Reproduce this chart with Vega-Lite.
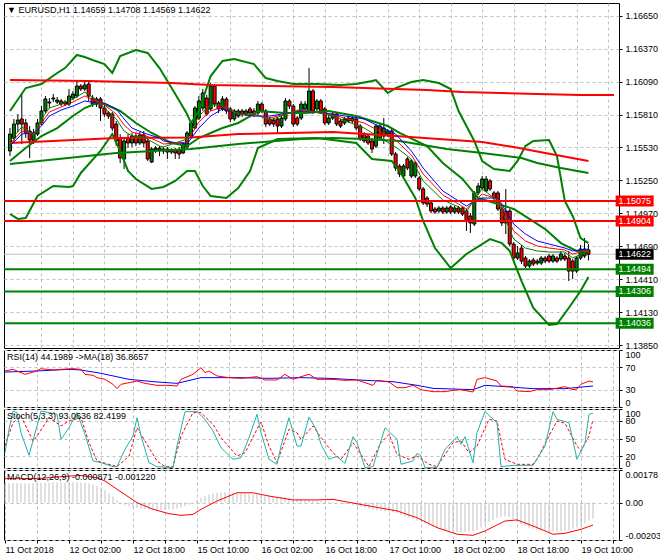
{
"$schema":"https://vega.github.io/schema/vega-lite/v6.json",
"background":"white",
"padding":{"left":2,"top":2,"right":0,"bottom":0},
"spacing":2,
"bounds":"flush",
"config":{
 "view":{"stroke":"#000000","strokeWidth":1,"fill":"white"},
 "axis":{"domain":false,"grid":true,"gridColor":"#c0c0c0","gridDash":[3,3],"gridWidth":1,"labelFont":"Liberation Sans","labelFontSize":9,"labelColor":"#000000","tickColor":"#000000","tickSize":3,"labelPadding":3,"labelOverlap":false},
 "title":{"anchor":"start","font":"Liberation Sans","fontSize":9,"fontWeight":"normal","color":"#000000","offset":-12,"dx":4},
 "legend":{"disable":true}
},
"datasets":{
"candles":[
{"i":0,"o":1.155,"h":1.15695,"l":1.15457,"c":1.15644},
{"i":1,"o":1.1561,"h":1.15772,"l":1.15576,"c":1.15729},
{"i":2,"o":1.15729,"h":1.15814,"l":1.15661,"c":1.15763},
{"i":3,"o":1.15772,"h":1.15993,"l":1.15559,"c":1.15729},
{"i":4,"o":1.15738,"h":1.15772,"l":1.1561,"c":1.15653},
{"i":5,"o":1.1567,"h":1.15712,"l":1.1544,"c":1.15593},
{"i":6,"o":1.15585,"h":1.15687,"l":1.15559,"c":1.15653},
{"i":7,"o":1.15644,"h":1.15772,"l":1.15627,"c":1.15738},
{"i":8,"o":1.15738,"h":1.15882,"l":1.15721,"c":1.1584},
{"i":9,"o":1.1584,"h":1.15967,"l":1.15823,"c":1.15942},
{"i":10,"o":1.15908,"h":1.1595,"l":1.15865,"c":1.15916},
{"i":11,"o":1.15942,"h":1.15984,"l":1.15916,"c":1.1595},
{"i":12,"o":1.15916,"h":1.15959,"l":1.15899,"c":1.15933},
{"i":13,"o":1.15925,"h":1.15942,"l":1.15882,"c":1.15899},
{"i":14,"o":1.15916,"h":1.15933,"l":1.15882,"c":1.15899},
{"i":15,"o":1.15899,"h":1.16027,"l":1.15882,"c":1.15967},
{"i":16,"o":1.1595,"h":1.1601,"l":1.15933,"c":1.15984},
{"i":17,"o":1.15967,"h":1.16095,"l":1.1595,"c":1.16052},
{"i":18,"o":1.16052,"h":1.16069,"l":1.1601,"c":1.16027},
{"i":19,"o":1.16027,"h":1.16095,"l":1.1601,"c":1.16061},
{"i":20,"o":1.16069,"h":1.16095,"l":1.15925,"c":1.15967},
{"i":21,"o":1.1595,"h":1.15976,"l":1.15874,"c":1.15899},
{"i":22,"o":1.15942,"h":1.15959,"l":1.15874,"c":1.15899},
{"i":23,"o":1.15942,"h":1.15959,"l":1.15755,"c":1.15865},
{"i":24,"o":1.15865,"h":1.15891,"l":1.15789,"c":1.15814},
{"i":25,"o":1.15823,"h":1.1584,"l":1.15772,"c":1.15797},
{"i":26,"o":1.15814,"h":1.15831,"l":1.1567,"c":1.15695},
{"i":27,"o":1.15729,"h":1.15755,"l":1.15542,"c":1.15585},
{"i":28,"o":1.1561,"h":1.15644,"l":1.15398,"c":1.1544},
{"i":29,"o":1.15432,"h":1.15619,"l":1.15347,"c":1.15585},
{"i":30,"o":1.1561,"h":1.15644,"l":1.15525,"c":1.15568},
{"i":31,"o":1.15568,"h":1.15653,"l":1.15534,"c":1.15627},
{"i":32,"o":1.15627,"h":1.15653,"l":1.15542,"c":1.15568},
{"i":33,"o":1.15568,"h":1.15661,"l":1.15551,"c":1.15636},
{"i":34,"o":1.15636,"h":1.1567,"l":1.15534,"c":1.15568},
{"i":35,"o":1.15585,"h":1.15602,"l":1.15415,"c":1.15432},
{"i":36,"o":1.15406,"h":1.15534,"l":1.15398,"c":1.15517},
{"i":37,"o":1.15508,"h":1.15542,"l":1.15483,"c":1.15525},
{"i":38,"o":1.15525,"h":1.15542,"l":1.15457,"c":1.15508},
{"i":39,"o":1.155,"h":1.15534,"l":1.15474,"c":1.15517},
{"i":40,"o":1.15517,"h":1.15534,"l":1.15432,"c":1.15491},
{"i":41,"o":1.15491,"h":1.15525,"l":1.15474,"c":1.15508},
{"i":42,"o":1.15508,"h":1.15525,"l":1.15432,"c":1.15483},
{"i":43,"o":1.15508,"h":1.15534,"l":1.15432,"c":1.15474},
{"i":44,"o":1.15483,"h":1.15576,"l":1.15474,"c":1.15559},
{"i":45,"o":1.15534,"h":1.1567,"l":1.15517,"c":1.15653},
{"i":46,"o":1.15627,"h":1.15755,"l":1.1561,"c":1.15738},
{"i":47,"o":1.15695,"h":1.15882,"l":1.15687,"c":1.15865},
{"i":48,"o":1.1578,"h":1.15967,"l":1.15763,"c":1.15925},
{"i":49,"o":1.15865,"h":1.16027,"l":1.1584,"c":1.15993},
{"i":50,"o":1.1595,"h":1.15976,"l":1.15797,"c":1.15814},
{"i":51,"o":1.15857,"h":1.16078,"l":1.1584,"c":1.16052},
{"i":52,"o":1.16052,"h":1.16069,"l":1.15874,"c":1.15899},
{"i":53,"o":1.15908,"h":1.15925,"l":1.15823,"c":1.15857},
{"i":54,"o":1.15857,"h":1.15967,"l":1.1584,"c":1.15942},
{"i":55,"o":1.15942,"h":1.15959,"l":1.15814,"c":1.1584},
{"i":56,"o":1.15857,"h":1.15874,"l":1.15746,"c":1.15772},
{"i":57,"o":1.15772,"h":1.15857,"l":1.15755,"c":1.1584},
{"i":58,"o":1.15797,"h":1.15857,"l":1.1578,"c":1.1584},
{"i":59,"o":1.1584,"h":1.15857,"l":1.15789,"c":1.15814},
{"i":60,"o":1.15814,"h":1.15857,"l":1.15797,"c":1.1584},
{"i":61,"o":1.15857,"h":1.15874,"l":1.15806,"c":1.15823},
{"i":62,"o":1.1584,"h":1.15865,"l":1.15789,"c":1.15814},
{"i":63,"o":1.15823,"h":1.15925,"l":1.15806,"c":1.15899},
{"i":64,"o":1.15899,"h":1.15916,"l":1.15823,"c":1.1584},
{"i":65,"o":1.1584,"h":1.15857,"l":1.15704,"c":1.15729},
{"i":66,"o":1.15772,"h":1.15789,"l":1.15712,"c":1.15729},
{"i":67,"o":1.15763,"h":1.1578,"l":1.15704,"c":1.15729},
{"i":68,"o":1.15772,"h":1.15789,"l":1.15653,"c":1.15712},
{"i":69,"o":1.15712,"h":1.15797,"l":1.15695,"c":1.1578},
{"i":70,"o":1.15772,"h":1.1595,"l":1.15755,"c":1.15925},
{"i":71,"o":1.15925,"h":1.15942,"l":1.15857,"c":1.15882},
{"i":72,"o":1.15882,"h":1.15899,"l":1.15704,"c":1.15729},
{"i":73,"o":1.1578,"h":1.15797,"l":1.15712,"c":1.15729},
{"i":74,"o":1.1578,"h":1.15925,"l":1.15763,"c":1.15899},
{"i":75,"o":1.15857,"h":1.15925,"l":1.1584,"c":1.15899},
{"i":76,"o":1.1584,"h":1.16205,"l":1.15823,"c":1.1601},
{"i":77,"o":1.1601,"h":1.16027,"l":1.15814,"c":1.1584},
{"i":78,"o":1.15857,"h":1.15942,"l":1.1584,"c":1.15925},
{"i":79,"o":1.15925,"h":1.15942,"l":1.15814,"c":1.1584},
{"i":80,"o":1.15857,"h":1.15874,"l":1.15721,"c":1.15738},
{"i":81,"o":1.15738,"h":1.15806,"l":1.15721,"c":1.1578},
{"i":82,"o":1.1578,"h":1.15831,"l":1.15763,"c":1.15814},
{"i":83,"o":1.15814,"h":1.15831,"l":1.15712,"c":1.15729},
{"i":84,"o":1.15755,"h":1.15772,"l":1.15695,"c":1.15712},
{"i":85,"o":1.15738,"h":1.15789,"l":1.15721,"c":1.15772},
{"i":86,"o":1.1578,"h":1.15797,"l":1.15738,"c":1.15755},
{"i":87,"o":1.15755,"h":1.15797,"l":1.15738,"c":1.1578},
{"i":88,"o":1.15772,"h":1.15789,"l":1.15678,"c":1.15695},
{"i":89,"o":1.15712,"h":1.15729,"l":1.15585,"c":1.15602},
{"i":90,"o":1.15644,"h":1.15661,"l":1.15568,"c":1.15585},
{"i":91,"o":1.15627,"h":1.15644,"l":1.15551,"c":1.15568},
{"i":92,"o":1.15585,"h":1.1561,"l":1.15483,"c":1.15517},
{"i":93,"o":1.15542,"h":1.15729,"l":1.15525,"c":1.15712},
{"i":94,"o":1.15712,"h":1.15729,"l":1.15593,"c":1.1561},
{"i":95,"o":1.15627,"h":1.1578,"l":1.15559,"c":1.15695},
{"i":96,"o":1.15644,"h":1.15687,"l":1.15619,"c":1.1567},
{"i":97,"o":1.1567,"h":1.15687,"l":1.15457,"c":1.15474},
{"i":98,"o":1.15474,"h":1.15491,"l":1.1533,"c":1.15355},
{"i":99,"o":1.15372,"h":1.15389,"l":1.15279,"c":1.15304},
{"i":100,"o":1.15287,"h":1.15389,"l":1.1527,"c":1.15372},
{"i":101,"o":1.15432,"h":1.15449,"l":1.15338,"c":1.15355},
{"i":102,"o":1.15287,"h":1.15432,"l":1.1527,"c":1.15415},
{"i":103,"o":1.15287,"h":1.15415,"l":1.1527,"c":1.15398},
{"i":104,"o":1.1527,"h":1.15287,"l":1.1516,"c":1.15177},
{"i":105,"o":1.15177,"h":1.15194,"l":1.15041,"c":1.15058},
{"i":106,"o":1.151,"h":1.15117,"l":1.15024,"c":1.15049},
{"i":107,"o":1.15058,"h":1.15075,"l":1.14973,"c":1.1499},
{"i":108,"o":1.15007,"h":1.15024,"l":1.14964,"c":1.14981},
{"i":109,"o":1.1499,"h":1.15032,"l":1.14973,"c":1.15015},
{"i":110,"o":1.15015,"h":1.15032,"l":1.14964,"c":1.14981},
{"i":111,"o":1.14981,"h":1.15032,"l":1.14964,"c":1.15015},
{"i":112,"o":1.15024,"h":1.15041,"l":1.14964,"c":1.14981},
{"i":113,"o":1.14981,"h":1.15032,"l":1.14964,"c":1.15015},
{"i":114,"o":1.15015,"h":1.15032,"l":1.14964,"c":1.14981},
{"i":115,"o":1.15015,"h":1.15032,"l":1.14947,"c":1.14964},
{"i":116,"o":1.1499,"h":1.15007,"l":1.1482,"c":1.14905},
{"i":117,"o":1.14947,"h":1.14973,"l":1.14803,"c":1.14888},
{"i":118,"o":1.14879,"h":1.1516,"l":1.14862,"c":1.15143},
{"i":119,"o":1.15143,"h":1.15228,"l":1.15126,"c":1.15202},
{"i":120,"o":1.15185,"h":1.15287,"l":1.15168,"c":1.15262},
{"i":121,"o":1.1516,"h":1.15287,"l":1.15151,"c":1.15262},
{"i":122,"o":1.15245,"h":1.15262,"l":1.1516,"c":1.15177},
{"i":123,"o":1.15143,"h":1.1516,"l":1.15075,"c":1.151},
{"i":124,"o":1.15143,"h":1.1516,"l":1.1499,"c":1.15007},
{"i":125,"o":1.15007,"h":1.15024,"l":1.14862,"c":1.14888},
{"i":126,"o":1.1499,"h":1.15177,"l":1.14794,"c":1.14888},
{"i":127,"o":1.1499,"h":1.15007,"l":1.14692,"c":1.14709},
{"i":128,"o":1.14709,"h":1.14726,"l":1.14564,"c":1.1459},
{"i":129,"o":1.1459,"h":1.14692,"l":1.14573,"c":1.14633},
{"i":130,"o":1.14675,"h":1.147,"l":1.14539,"c":1.14564},
{"i":131,"o":1.1459,"h":1.14607,"l":1.14505,"c":1.14522},
{"i":132,"o":1.14522,"h":1.14581,"l":1.14505,"c":1.14564},
{"i":133,"o":1.14573,"h":1.1459,"l":1.14522,"c":1.14539},
{"i":134,"o":1.14547,"h":1.14581,"l":1.1453,"c":1.14564},
{"i":135,"o":1.14547,"h":1.14607,"l":1.1453,"c":1.1459},
{"i":136,"o":1.1459,"h":1.14607,"l":1.14547,"c":1.14564},
{"i":137,"o":1.14607,"h":1.14624,"l":1.14547,"c":1.14564},
{"i":138,"o":1.14564,"h":1.14624,"l":1.14547,"c":1.14607},
{"i":139,"o":1.1459,"h":1.14607,"l":1.14547,"c":1.14564},
{"i":140,"o":1.14581,"h":1.1465,"l":1.14564,"c":1.14624},
{"i":141,"o":1.14607,"h":1.14633,"l":1.14564,"c":1.14581},
{"i":142,"o":1.1459,"h":1.1465,"l":1.14394,"c":1.14479},
{"i":143,"o":1.14564,"h":1.14581,"l":1.14411,"c":1.14479},
{"i":144,"o":1.14479,"h":1.14607,"l":1.14462,"c":1.1459},
{"i":145,"o":1.1459,"h":1.147,"l":1.14573,"c":1.14666},
{"i":146,"o":1.14607,"h":1.1476,"l":1.1459,"c":1.14666},
{"i":147,"o":1.14659,"h":1.14708,"l":1.14569,"c":1.14622}
],
"thick":[
{"s":"bbu","i":0,"p":1.1584},{"s":"bbu","i":4,"p":1.16035},{"s":"bbu","i":8,"p":1.16069},{"s":"bbu","i":12,"p":1.16163},{"s":"bbu","i":14,"p":1.16205},{"s":"bbu","i":17,"p":1.16316},{"s":"bbu","i":19,"p":1.16299},{"s":"bbu","i":21,"p":1.16273},{"s":"bbu","i":24,"p":1.16239},{"s":"bbu","i":26,"p":1.16163},{"s":"bbu","i":28,"p":1.16307},{"s":"bbu","i":32,"p":1.16358},{"s":"bbu","i":35,"p":1.16333},{"s":"bbu","i":38,"p":1.16205},{"s":"bbu","i":42,"p":1.15984},{"s":"bbu","i":45,"p":1.15814},{"s":"bbu","i":46,"p":1.15738},{"s":"bbu","i":48,"p":1.1584},{"s":"bbu","i":51,"p":1.16137},{"s":"bbu","i":54,"p":1.16265},{"s":"bbu","i":57,"p":1.16282},{"s":"bbu","i":62,"p":1.16239},{"s":"bbu","i":65,"p":1.1612},{"s":"bbu","i":68,"p":1.16095},{"s":"bbu","i":72,"p":1.16069},{"s":"bbu","i":78,"p":1.16069},{"s":"bbu","i":84,"p":1.16061},{"s":"bbu","i":88,"p":1.16069},{"s":"bbu","i":92,"p":1.16095},{"s":"bbu","i":93,"p":1.16103},{"s":"bbu","i":96,"p":1.15993},{"s":"bbu","i":98,"p":1.16035},{"s":"bbu","i":102,"p":1.16086},{"s":"bbu","i":105,"p":1.16103},{"s":"bbu","i":109,"p":1.16078},{"s":"bbu","i":112,"p":1.16027},{"s":"bbu","i":114,"p":1.1584},{"s":"bbu","i":118,"p":1.15585},{"s":"bbu","i":120,"p":1.15415},{"s":"bbu","i":123,"p":1.15347},{"s":"bbu","i":127,"p":1.1533},{"s":"bbu","i":129,"p":1.15415},{"s":"bbu","i":131,"p":1.15542},{"s":"bbu","i":133,"p":1.15585},{"s":"bbu","i":137,"p":1.15593},{"s":"bbu","i":139,"p":1.15457},{"s":"bbu","i":141,"p":1.15075},{"s":"bbu","i":143,"p":1.14947},{"s":"bbu","i":145,"p":1.1476},{"s":"bbu","i":147,"p":1.14717},
{"s":"bbl","i":0,"p":1.14964},{"s":"bbl","i":2,"p":1.14922},{"s":"bbl","i":4,"p":1.1493},{"s":"bbl","i":7,"p":1.15117},{"s":"bbl","i":11,"p":1.15202},{"s":"bbl","i":15,"p":1.15194},{"s":"bbl","i":16,"p":1.15202},{"s":"bbl","i":18,"p":1.15313},{"s":"bbl","i":23,"p":1.155},{"s":"bbl","i":26,"p":1.15644},{"s":"bbl","i":28,"p":1.155},{"s":"bbl","i":30,"p":1.1533},{"s":"bbl","i":32,"p":1.15262},{"s":"bbl","i":36,"p":1.15177},{"s":"bbl","i":39,"p":1.15194},{"s":"bbl","i":42,"p":1.15245},{"s":"bbl","i":45,"p":1.1533},{"s":"bbl","i":47,"p":1.1533},{"s":"bbl","i":49,"p":1.15202},{"s":"bbl","i":51,"p":1.15117},{"s":"bbl","i":55,"p":1.151},{"s":"bbl","i":58,"p":1.15185},{"s":"bbl","i":61,"p":1.1533},{"s":"bbl","i":63,"p":1.15525},{"s":"bbl","i":68,"p":1.15602},{"s":"bbl","i":78,"p":1.1561},{"s":"bbl","i":88,"p":1.15568},{"s":"bbl","i":92,"p":1.15432},{"s":"bbl","i":97,"p":1.15415},{"s":"bbl","i":99,"p":1.1533},{"s":"bbl","i":103,"p":1.151},{"s":"bbl","i":105,"p":1.14905},{"s":"bbl","i":108,"p":1.14675},{"s":"bbl","i":112,"p":1.14505},{"s":"bbl","i":116,"p":1.14624},{"s":"bbl","i":122,"p":1.14751},{"s":"bbl","i":125,"p":1.14717},{"s":"bbl","i":127,"p":1.1465},{"s":"bbl","i":130,"p":1.14394},{"s":"bbl","i":133,"p":1.14165},{"s":"bbl","i":137,"p":1.1402},{"s":"bbl","i":139,"p":1.14029},{"s":"bbl","i":142,"p":1.14165},{"s":"bbl","i":145,"p":1.14309},{"s":"bbl","i":147,"p":1.14428},
{"s":"mid","i":0,"p":1.15415},{"s":"mid","i":4,"p":1.15525},{"s":"mid","i":8,"p":1.15627},{"s":"mid","i":12,"p":1.15695},{"s":"mid","i":16,"p":1.15797},{"s":"mid","i":19,"p":1.15865},{"s":"mid","i":22,"p":1.15908},{"s":"mid","i":24,"p":1.15899},{"s":"mid","i":28,"p":1.1584},{"s":"mid","i":32,"p":1.15738},{"s":"mid","i":36,"p":1.15653},{"s":"mid","i":41,"p":1.15568},{"s":"mid","i":45,"p":1.15542},{"s":"mid","i":48,"p":1.1561},{"s":"mid","i":51,"p":1.15653},{"s":"mid","i":54,"p":1.15695},{"s":"mid","i":58,"p":1.15738},{"s":"mid","i":62,"p":1.15814},{"s":"mid","i":63,"p":1.1584},{"s":"mid","i":70,"p":1.15823},{"s":"mid","i":75,"p":1.15823},{"s":"mid","i":81,"p":1.1584},{"s":"mid","i":88,"p":1.15797},{"s":"mid","i":96,"p":1.15712},{"s":"mid","i":99,"p":1.15653},{"s":"mid","i":106,"p":1.15542},{"s":"mid","i":110,"p":1.15398},{"s":"mid","i":115,"p":1.15262},{"s":"mid","i":119,"p":1.151},{"s":"mid","i":124,"p":1.15049},{"s":"mid","i":128,"p":1.15007},{"s":"mid","i":132,"p":1.14922},{"s":"mid","i":136,"p":1.14836},{"s":"mid","i":140,"p":1.14717},{"s":"mid","i":144,"p":1.1465},{"s":"mid","i":147,"p":1.1465},
{"s":"long","i":0,"p":1.15389},{"s":"long","i":27,"p":1.15483},{"s":"long","i":46,"p":1.15517},{"s":"long","i":58,"p":1.15559},{"s":"long","i":74,"p":1.15602},{"s":"long","i":82,"p":1.1561},{"s":"long","i":90,"p":1.15602},{"s":"long","i":99,"p":1.15585},{"s":"long","i":111,"p":1.15517},{"s":"long","i":120,"p":1.15483},{"s":"long","i":130,"p":1.1544},{"s":"long","i":134,"p":1.15398},{"s":"long","i":140,"p":1.15355},{"s":"long","i":147,"p":1.15313},
{"s":"rlong","i":0,"p":1.15568},{"s":"rlong","i":27,"p":1.1561},{"s":"rlong","i":46,"p":1.15614},{"s":"rlong","i":58,"p":1.15644},{"s":"rlong","i":82,"p":1.15661},{"s":"rlong","i":98,"p":1.15627},{"s":"rlong","i":120,"p":1.15576},{"s":"rlong","i":128,"p":1.15534},{"s":"rlong","i":136,"p":1.15483},{"s":"rlong","i":147,"p":1.15415},
{"s":"rtop","i":0,"p":1.16103},{"s":"rtop","i":20,"p":1.16095},{"s":"rtop","i":41,"p":1.16078},{"s":"rtop","i":51,"p":1.16061},{"s":"rtop","i":82,"p":1.16044},{"s":"rtop","i":106,"p":1.16018},{"s":"rtop","i":115,"p":1.16001},{"s":"rtop","i":134,"p":1.15984},{"s":"rtop","i":145,"p":1.15976},{"s":"rtop","i":153.5,"p":1.15976}
],
"thin":[
{"s":"blue","i":0,"p":1.15542},{"s":"blue","i":3,"p":1.15644},{"s":"blue","i":6,"p":1.15653},{"s":"blue","i":8,"p":1.15712},{"s":"blue","i":10,"p":1.15797},{"s":"blue","i":13,"p":1.15848},{"s":"blue","i":16,"p":1.15882},{"s":"blue","i":19,"p":1.15925},{"s":"blue","i":22,"p":1.15908},{"s":"blue","i":24,"p":1.15908},{"s":"blue","i":27,"p":1.15857},{"s":"blue","i":29,"p":1.15772},{"s":"blue","i":31,"p":1.15695},{"s":"blue","i":34,"p":1.15653},{"s":"blue","i":38,"p":1.1561},{"s":"blue","i":39,"p":1.15585},{"s":"blue","i":45,"p":1.15559},{"s":"blue","i":48,"p":1.15695},{"s":"blue","i":51,"p":1.15797},{"s":"blue","i":54,"p":1.15857},{"s":"blue","i":58,"p":1.15814},{"s":"blue","i":62,"p":1.15797},{"s":"blue","i":66,"p":1.15797},{"s":"blue","i":74,"p":1.1584},{"s":"blue","i":82,"p":1.15814},{"s":"blue","i":90,"p":1.15772},{"s":"blue","i":98,"p":1.15644},{"s":"blue","i":102,"p":1.155},{"s":"blue","i":105,"p":1.15355},{"s":"blue","i":110,"p":1.1516},{"s":"blue","i":114,"p":1.15075},{"s":"blue","i":116,"p":1.15032},{"s":"blue","i":118,"p":1.15075},{"s":"blue","i":120,"p":1.151},{"s":"blue","i":124,"p":1.151},{"s":"blue","i":126,"p":1.1499},{"s":"blue","i":128,"p":1.14879},{"s":"blue","i":131,"p":1.14794},{"s":"blue","i":134,"p":1.14735},{"s":"blue","i":137,"p":1.14709},{"s":"blue","i":141,"p":1.14675},{"s":"blue","i":143,"p":1.1465},{"s":"blue","i":147,"p":1.14666},
{"s":"red","i":0,"p":1.15559},{"s":"red","i":3,"p":1.1567},{"s":"red","i":6,"p":1.15644},{"s":"red","i":8,"p":1.15738},{"s":"red","i":10,"p":1.15831},{"s":"red","i":13,"p":1.15874},{"s":"red","i":16,"p":1.15916},{"s":"red","i":19,"p":1.15967},{"s":"red","i":22,"p":1.15925},{"s":"red","i":24,"p":1.15891},{"s":"red","i":27,"p":1.15814},{"s":"red","i":29,"p":1.15721},{"s":"red","i":31,"p":1.15661},{"s":"red","i":34,"p":1.15636},{"s":"red","i":38,"p":1.15576},{"s":"red","i":39,"p":1.15559},{"s":"red","i":45,"p":1.15576},{"s":"red","i":48,"p":1.15746},{"s":"red","i":51,"p":1.1584},{"s":"red","i":54,"p":1.15874},{"s":"red","i":58,"p":1.15814},{"s":"red","i":62,"p":1.15806},{"s":"red","i":66,"p":1.1578},{"s":"red","i":74,"p":1.15848},{"s":"red","i":82,"p":1.15806},{"s":"red","i":90,"p":1.15738},{"s":"red","i":98,"p":1.15593},{"s":"red","i":102,"p":1.15466},{"s":"red","i":105,"p":1.15304},{"s":"red","i":110,"p":1.15126},{"s":"red","i":114,"p":1.15049},{"s":"red","i":116,"p":1.15007},{"s":"red","i":118,"p":1.15075},{"s":"red","i":120,"p":1.15134},{"s":"red","i":124,"p":1.15092},{"s":"red","i":126,"p":1.14956},{"s":"red","i":128,"p":1.1482},{"s":"red","i":131,"p":1.14735},{"s":"red","i":134,"p":1.14692},{"s":"red","i":137,"p":1.14675},{"s":"red","i":141,"p":1.14658},{"s":"red","i":143,"p":1.14624},{"s":"red","i":147,"p":1.14658},
{"s":"green","i":0,"p":1.15585},{"s":"green","i":3,"p":1.15704},{"s":"green","i":6,"p":1.15636},{"s":"green","i":8,"p":1.15772},{"s":"green","i":10,"p":1.15865},{"s":"green","i":13,"p":1.15899},{"s":"green","i":16,"p":1.15942},{"s":"green","i":19,"p":1.16001},{"s":"green","i":22,"p":1.15933},{"s":"green","i":24,"p":1.15865},{"s":"green","i":27,"p":1.15772},{"s":"green","i":29,"p":1.1567},{"s":"green","i":31,"p":1.15627},{"s":"green","i":34,"p":1.15619},{"s":"green","i":38,"p":1.15542},{"s":"green","i":39,"p":1.15534},{"s":"green","i":45,"p":1.15602},{"s":"green","i":48,"p":1.15797},{"s":"green","i":51,"p":1.15891},{"s":"green","i":54,"p":1.15891},{"s":"green","i":58,"p":1.15814},{"s":"green","i":62,"p":1.15814},{"s":"green","i":66,"p":1.15763},{"s":"green","i":74,"p":1.15857},{"s":"green","i":82,"p":1.15797},{"s":"green","i":90,"p":1.15695},{"s":"green","i":98,"p":1.15534},{"s":"green","i":102,"p":1.15432},{"s":"green","i":105,"p":1.15245},{"s":"green","i":110,"p":1.15083},{"s":"green","i":114,"p":1.15024},{"s":"green","i":116,"p":1.14981},{"s":"green","i":118,"p":1.15092},{"s":"green","i":120,"p":1.15177},{"s":"green","i":124,"p":1.15075},{"s":"green","i":126,"p":1.14913},{"s":"green","i":128,"p":1.14751},{"s":"green","i":131,"p":1.14675},{"s":"green","i":134,"p":1.1465},{"s":"green","i":137,"p":1.14641},{"s":"green","i":141,"p":1.14641},{"s":"green","i":143,"p":1.1459},{"s":"green","i":147,"p":1.1465}
],
"levels":[{"k":"res","p":1.15075},{"k":"res","p":1.14904},{"k":"cur","p":1.14622},{"k":"sup","p":1.14494},{"k":"sup","p":1.14306},{"k":"sup","p":1.14036}],
"rsi":[{"i":0,"v":63.2},{"i":2,"v":66.1},{"i":3,"v":63.2},{"i":5,"v":57.3},{"i":8,"v":63.2},{"i":9,"v":67.2},{"i":12,"v":64.9},{"i":14,"v":66.1},{"i":17,"v":67.2},{"i":19,"v":66.1},{"i":20,"v":57.3},{"i":22,"v":55.6},{"i":23,"v":51.5},{"i":25,"v":48.5},{"i":27,"v":39.8},{"i":28,"v":32.2},{"i":29,"v":39.8},{"i":31,"v":42.7},{"i":33,"v":45.6},{"i":35,"v":41.5},{"i":38,"v":38},{"i":41,"v":38},{"i":43,"v":36.8},{"i":44,"v":48.5},{"i":47,"v":57.3},{"i":49,"v":69},{"i":50,"v":60.2},{"i":51,"v":63.2},{"i":53,"v":54.4},{"i":56,"v":51.5},{"i":59,"v":50.3},{"i":63,"v":53.2},{"i":65,"v":47.4},{"i":68,"v":47.4},{"i":70,"v":57.3},{"i":72,"v":48.5},{"i":74,"v":53.2},{"i":76,"v":57.3},{"i":78,"v":48.5},{"i":82,"v":48.5},{"i":85,"v":46.8},{"i":88,"v":47.4},{"i":90,"v":42.7},{"i":92,"v":38},{"i":93,"v":46.8},{"i":96,"v":43.9},{"i":98,"v":33.9},{"i":100,"v":33.9},{"i":102,"v":38},{"i":104,"v":30.4},{"i":107,"v":26.9},{"i":110,"v":26.9},{"i":112,"v":29.2},{"i":114,"v":30.4},{"i":117,"v":26.3},{"i":118,"v":48.5},{"i":120,"v":51.5},{"i":123,"v":45.6},{"i":124,"v":36.8},{"i":127,"v":35.7},{"i":128,"v":28.1},{"i":131,"v":26.9},{"i":133,"v":30.4},{"i":136,"v":30.4},{"i":140,"v":35.7},{"i":142,"v":30.4},{"i":143,"v":31.6},{"i":144,"v":39.8},{"i":146,"v":45.6},{"i":147,"v":44.2}],
"rsima":[{"i":0,"v":61.4},{"i":8,"v":63.2},{"i":16,"v":66.1},{"i":19,"v":64.9},{"i":24,"v":59.1},{"i":31,"v":48.5},{"i":38,"v":43.9},{"i":43,"v":41.5},{"i":49,"v":51.5},{"i":58,"v":51.5},{"i":66,"v":50.3},{"i":74,"v":51.5},{"i":81,"v":50.3},{"i":90,"v":46.8},{"i":97,"v":44.4},{"i":103,"v":38},{"i":107,"v":32.7},{"i":117,"v":30.4},{"i":120,"v":38},{"i":125,"v":35.7},{"i":132,"v":32.2},{"i":140,"v":32.2},{"i":147,"v":36.87}],
"stk":[{"i":0,"v":25.9},{"i":1,"v":65.6},{"i":2,"v":96.6},{"i":3,"v":93.8},{"i":4,"v":59.8},{"i":6,"v":21.5},{"i":8,"v":71.2},{"i":9,"v":96.6},{"i":11,"v":93.8},{"i":13,"v":91},{"i":14,"v":48.6},{"i":16,"v":68.3},{"i":18,"v":93.8},{"i":20,"v":57},{"i":22,"v":11.9},{"i":24,"v":9},{"i":27,"v":2.3},{"i":28,"v":2.3},{"i":30,"v":31.6},{"i":32,"v":54.2},{"i":33,"v":85.3},{"i":34,"v":54.2},{"i":36,"v":9},{"i":38,"v":2.3},{"i":42,"v":0.6},{"i":43,"v":37.3},{"i":45,"v":95.5},{"i":48,"v":95.5},{"i":50,"v":82.5},{"i":52,"v":62.7},{"i":54,"v":34.5},{"i":57,"v":14.7},{"i":59,"v":17.5},{"i":61,"v":51.4},{"i":63,"v":91},{"i":64,"v":59.8},{"i":66,"v":14.7},{"i":68,"v":6.2},{"i":69,"v":37.3},{"i":71,"v":85.3},{"i":73,"v":37.3},{"i":74,"v":37.3},{"i":76,"v":86.4},{"i":78,"v":62.7},{"i":79,"v":40.1},{"i":81,"v":14.7},{"i":82,"v":17.5},{"i":83,"v":19.2},{"i":85,"v":7.9},{"i":87,"v":53.1},{"i":88,"v":42.9},{"i":90,"v":0.6},{"i":92,"v":2.3},{"i":95,"v":68.3},{"i":98,"v":48.6},{"i":99,"v":6.2},{"i":102,"v":11.9},{"i":103,"v":24.9},{"i":104,"v":20.3},{"i":105,"v":0.6},{"i":108,"v":0.6},{"i":110,"v":31.6},{"i":113,"v":53.1},{"i":114,"v":40.1},{"i":115,"v":53.1},{"i":117,"v":9},{"i":118,"v":59.8},{"i":120,"v":95.5},{"i":123,"v":76.8},{"i":124,"v":2.3},{"i":127,"v":4.5},{"i":132,"v":4.5},{"i":135,"v":37.3},{"i":137,"v":95.5},{"i":138,"v":82.5},{"i":141,"v":76.8},{"i":143,"v":14.7},{"i":145,"v":42.9},{"i":146,"v":91},{"i":147,"v":93.06}],
"std":[{"i":0,"v":37.3},{"i":2,"v":76.8},{"i":4,"v":88.1},{"i":7,"v":45.8},{"i":8,"v":54.2},{"i":11,"v":85.3},{"i":14,"v":71.2},{"i":16,"v":79.7},{"i":19,"v":85.3},{"i":21,"v":42.9},{"i":23,"v":11.9},{"i":26,"v":6.2},{"i":28,"v":2.3},{"i":31,"v":20.3},{"i":33,"v":68.3},{"i":35,"v":45.8},{"i":38,"v":11.9},{"i":40,"v":2.3},{"i":42,"v":2.3},{"i":44,"v":54.2},{"i":47,"v":93.8},{"i":49,"v":93.8},{"i":52,"v":74},{"i":54,"v":51.4},{"i":58,"v":20.3},{"i":60,"v":25.9},{"i":63,"v":65.6},{"i":64,"v":78},{"i":66,"v":37.3},{"i":68,"v":9},{"i":71,"v":65.6},{"i":73,"v":59.8},{"i":74,"v":48.6},{"i":77,"v":71.2},{"i":79,"v":51.4},{"i":82,"v":25.9},{"i":84,"v":14.7},{"i":87,"v":42.9},{"i":89,"v":23.1},{"i":91,"v":2.3},{"i":94,"v":42.9},{"i":96,"v":57},{"i":98,"v":23.1},{"i":101,"v":14.7},{"i":103,"v":20.3},{"i":106,"v":6.2},{"i":108,"v":2.3},{"i":112,"v":42.9},{"i":114,"v":45.8},{"i":116,"v":25.9},{"i":118,"v":37.3},{"i":121,"v":82.5},{"i":123,"v":79.7},{"i":125,"v":14.7},{"i":128,"v":6.2},{"i":132,"v":6.2},{"i":133,"v":14.7},{"i":136,"v":54.2},{"i":138,"v":79.7},{"i":140,"v":75.7},{"i":143,"v":37.3},{"i":144,"v":28.8},{"i":146,"v":54.2},{"i":147,"v":82.42}],
"hist":[{"i":0,"m":0.00104},{"i":1,"m":0.00105},{"i":2,"m":0.00106},{"i":3,"m":0.00106},{"i":4,"m":0.00105},{"i":5,"m":0.00104},{"i":6,"m":0.00105},{"i":7,"m":0.00106},{"i":8,"m":0.00107},{"i":9,"m":0.00108},{"i":10,"m":0.00109},{"i":11,"m":0.0011},{"i":12,"m":0.0011},{"i":13,"m":0.0011},{"i":14,"m":0.00109},{"i":15,"m":0.00109},{"i":16,"m":0.0011},{"i":17,"m":0.00111},{"i":18,"m":0.00111},{"i":19,"m":0.0011},{"i":20,"m":0.00108},{"i":21,"m":0.00104},{"i":22,"m":0.00098},{"i":23,"m":0.00092},{"i":24,"m":0.00082},{"i":25,"m":0.00068},{"i":26,"m":0.00052},{"i":27,"m":0.00034},{"i":28,"m":0.00014},{"i":29,"m":-0.00002},{"i":30,"m":-0.00012},{"i":31,"m":-0.0002},{"i":32,"m":-0.00026},{"i":33,"m":-0.0003},{"i":34,"m":-0.00033},{"i":35,"m":-0.00036},{"i":36,"m":-0.00038},{"i":37,"m":-0.00039},{"i":38,"m":-0.0004},{"i":39,"m":-0.0004},{"i":40,"m":-0.00039},{"i":41,"m":-0.00038},{"i":42,"m":-0.00036},{"i":43,"m":-0.00033},{"i":44,"m":-0.00028},{"i":45,"m":-0.0002},{"i":46,"m":-0.0001},{"i":47,"m":0.00002},{"i":48,"m":0.00014},{"i":49,"m":0.00026},{"i":50,"m":0.00036},{"i":51,"m":0.00044},{"i":52,"m":0.0005},{"i":53,"m":0.00054},{"i":54,"m":0.00056},{"i":55,"m":0.00057},{"i":56,"m":0.00056},{"i":57,"m":0.00055},{"i":58,"m":0.00053},{"i":59,"m":0.0005},{"i":60,"m":0.00048},{"i":61,"m":0.00047},{"i":62,"m":0.00046},{"i":63,"m":0.00044},{"i":64,"m":0.00042},{"i":65,"m":0.0004},{"i":66,"m":0.00037},{"i":67,"m":0.00034},{"i":68,"m":0.00032},{"i":69,"m":0.0003},{"i":70,"m":0.0003},{"i":71,"m":0.00027},{"i":72,"m":0.00024},{"i":73,"m":0.0002},{"i":74,"m":0.00017},{"i":75,"m":0.00016},{"i":76,"m":0.00015},{"i":77,"m":0.00013},{"i":78,"m":0.00011},{"i":79,"m":0.0001},{"i":80,"m":0.00008},{"i":81,"m":0.00006},{"i":82,"m":0.00003},{"i":83,"m":0},{"i":84,"m":-0.00003},{"i":85,"m":-0.00006},{"i":86,"m":-0.0001},{"i":87,"m":-0.00014},{"i":88,"m":-0.00018},{"i":89,"m":-0.00023},{"i":90,"m":-0.00028},{"i":91,"m":-0.00033},{"i":92,"m":-0.00038},{"i":93,"m":-0.00042},{"i":94,"m":-0.00044},{"i":95,"m":-0.00046},{"i":96,"m":-0.00048},{"i":97,"m":-0.00052},{"i":98,"m":-0.00058},{"i":99,"m":-0.00066},{"i":100,"m":-0.00074},{"i":101,"m":-0.00082},{"i":102,"m":-0.0009},{"i":103,"m":-0.00098},{"i":104,"m":-0.00106},{"i":105,"m":-0.00114},{"i":106,"m":-0.00122},{"i":107,"m":-0.0013},{"i":108,"m":-0.00138},{"i":109,"m":-0.00145},{"i":110,"m":-0.0015},{"i":111,"m":-0.00155},{"i":112,"m":-0.00158},{"i":113,"m":-0.0016},{"i":114,"m":-0.00161},{"i":115,"m":-0.0016},{"i":116,"m":-0.00158},{"i":117,"m":-0.00156},{"i":118,"m":-0.00148},{"i":119,"m":-0.00135},{"i":120,"m":-0.0012},{"i":121,"m":-0.00105},{"i":122,"m":-0.00092},{"i":123,"m":-0.00082},{"i":124,"m":-0.00076},{"i":125,"m":-0.00074},{"i":126,"m":-0.00078},{"i":127,"m":-0.0009},{"i":128,"m":-0.00105},{"i":129,"m":-0.00118},{"i":130,"m":-0.00128},{"i":131,"m":-0.00136},{"i":132,"m":-0.00142},{"i":133,"m":-0.00147},{"i":134,"m":-0.00151},{"i":135,"m":-0.00154},{"i":136,"m":-0.00156},{"i":137,"m":-0.00158},{"i":138,"m":-0.00158},{"i":139,"m":-0.00156},{"i":140,"m":-0.00153},{"i":141,"m":-0.00148},{"i":142,"m":-0.00142},{"i":143,"m":-0.00135},{"i":144,"m":-0.00125},{"i":145,"m":-0.00112},{"i":146,"m":-0.00099},{"i":147,"m":-0.000871}],
"sig":[{"i":0,"m":0.00131},{"i":8,"m":0.00131},{"i":16,"m":0.00145},{"i":19,"m":0.00148},{"i":23,"m":0.00136},{"i":25,"m":0.00118},{"i":28,"m":0.00073},{"i":33,"m":0},{"i":37,"m":-0.00036},{"i":41,"m":-0.0006},{"i":44,"m":-0.00069},{"i":47,"m":-0.00064},{"i":49,"m":-0.00036},{"i":53,"m":0.00009},{"i":58,"m":0.00054},{"i":62,"m":0.00054},{"i":66,"m":0.00036},{"i":72,"m":0.00015},{"i":78,"m":0.00015},{"i":82,"m":0.00018},{"i":90,"m":-0.00014},{"i":98,"m":-0.00045},{"i":103,"m":-0.00082},{"i":108,"m":-0.00136},{"i":113,"m":-0.00172},{"i":117,"m":-0.00178},{"i":120,"m":-0.00154},{"i":125,"m":-0.001},{"i":128,"m":-0.00094},{"i":132,"m":-0.00127},{"i":137,"m":-0.00172},{"i":140,"m":-0.00167},{"i":144,"m":-0.00145},{"i":147,"m":-0.00122}]
},
"vconcat":[
{
 "width":615,"height":345,
 "title":{"text":"▼ EURUSD,H1  1.14659 1.14708 1.14569 1.14622"},
 "layer":[
  {"data":{"name":"levels"},"transform":[{"filter":"datum.k == 'cur'"}],
   "mark":{"type":"rule","color":"#c0c0c0","strokeWidth":1},
   "encoding":{"y":{"field":"p","type":"quantitative","title":null,"scale":{"domain":[1.13825,1.16758],"nice":false,"zero":false},
     "axis":{"orient":"right","values":[1.1385,1.1413,1.1441,1.1469,1.1497,1.1525,1.1553,1.1581,1.1609,1.1637,1.1665],"tickCount":100,"format":".5f","labelOverlap":false}}}},
  {"data":{"name":"candles"},"mark":{"type":"rule","color":"#000000","strokeWidth":1},
   "encoding":{
    "x":{"field":"i","type":"quantitative","title":null,"scale":{"domain":[-0.25,153.5],"nice":false,"zero":false},
      "axis":{"values":[8,16,24,32,40,48,56,64,72,80,88,96,104,112,120,128,136,144,152],"tickCount":100,"labels":false,"ticks":false,"minExtent":0,"maxExtent":0}},
    "y":{"field":"l","type":"quantitative","title":null,"scale":{"domain":[1.13825,1.16758],"nice":false,"zero":false}},
    "y2":{"field":"h"}}},
  {"data":{"name":"candles"},"mark":{"type":"bar","size":3,"stroke":"#000000","strokeWidth":1},
   "encoding":{
    "x":{"field":"i","type":"quantitative","title":null,"scale":{"domain":[-0.25,153.5],"nice":false,"zero":false}},
    "y":{"field":"o","type":"quantitative","title":null,"scale":{"domain":[1.13825,1.16758],"nice":false,"zero":false}},
    "y2":{"field":"c"},
    "color":{"condition":{"test":"datum.c >= datum.o","value":"#008000"},"value":"#ff0000"}}},
  {"data":{"name":"thick"},"mark":{"type":"line","strokeWidth":2},
   "encoding":{
    "x":{"field":"i","type":"quantitative","title":null,"scale":{"domain":[-0.25,153.5],"nice":false,"zero":false}},
    "y":{"field":"p","type":"quantitative","title":null,"scale":{"domain":[1.13825,1.16758],"nice":false,"zero":false}},
    "color":{"field":"s","type":"nominal","legend":null,"scale":{"domain":["bbu","bbl","mid","long","rlong","rtop","blue","red","green","res","sup","cur"],"range":["#008000","#008000","#008000","#008000","#ff0000","#ff0000","#0000ff","#ff0000","#008000","#ff0000","#008000","#000000"]}}}},
  {"data":{"name":"thin"},"mark":{"type":"line","strokeWidth":1},
   "encoding":{
    "x":{"field":"i","type":"quantitative","title":null,"scale":{"domain":[-0.25,153.5],"nice":false,"zero":false}},
    "y":{"field":"p","type":"quantitative","title":null,"scale":{"domain":[1.13825,1.16758],"nice":false,"zero":false}},
    "color":{"field":"s","type":"nominal","legend":null,"scale":{"domain":["bbu","bbl","mid","long","rlong","rtop","blue","red","green","res","sup","cur"],"range":["#008000","#008000","#008000","#008000","#ff0000","#ff0000","#0000ff","#ff0000","#008000","#ff0000","#008000","#000000"]}}}},
  {"data":{"name":"levels"},"transform":[{"filter":"datum.k != 'cur'"}],"mark":{"type":"rule","strokeWidth":2},
   "encoding":{
    "y":{"field":"p","type":"quantitative","title":null,"scale":{"domain":[1.13825,1.16758],"nice":false,"zero":false}},
    "color":{"field":"k","type":"nominal","legend":null,"scale":{"domain":["bbu","bbl","mid","long","rlong","rtop","blue","red","green","res","sup","cur"],"range":["#008000","#008000","#008000","#008000","#ff0000","#ff0000","#0000ff","#ff0000","#008000","#ff0000","#008000","#000000"]}}}},
  {"data":{"name":"levels"},"mark":{"type":"tick","orient":"horizontal","size":38,"thickness":11,"opacity":1},
   "encoding":{
    "x":{"datum":158.75,"type":"quantitative","scale":{"domain":[-0.25,153.5],"nice":false,"zero":false}},
    "y":{"field":"p","type":"quantitative","title":null,"scale":{"domain":[1.13825,1.16758],"nice":false,"zero":false}},
    "color":{"field":"k","type":"nominal","legend":null,"scale":{"domain":["bbu","bbl","mid","long","rlong","rtop","blue","red","green","res","sup","cur"],"range":["#008000","#008000","#008000","#008000","#ff0000","#ff0000","#0000ff","#ff0000","#008000","#ff0000","#008000","#000000"]}}}},
  {"data":{"name":"levels"},"mark":{"type":"text","color":"#ffffff","font":"Liberation Sans","fontSize":9,"align":"center","baseline":"middle"},
   "encoding":{
    "x":{"datum":158.75,"type":"quantitative","scale":{"domain":[-0.25,153.5],"nice":false,"zero":false}},
    "y":{"field":"p","type":"quantitative","title":null,"scale":{"domain":[1.13825,1.16758],"nice":false,"zero":false}},
    "text":{"field":"p","type":"quantitative","format":".5f"}}}
 ]
},
{
 "width":615,"height":57,
 "title":{"text":"RSI(14) 44.1989  ->MA(18) 36.8657"},
 "layer":[
  {"data":{"name":"rsima"},"mark":{"type":"line","color":"#0000ff","strokeWidth":1},
   "encoding":{
    "x":{"field":"i","type":"quantitative","title":null,"scale":{"domain":[-0.25,153.5],"nice":false,"zero":false},
      "axis":{"values":[8,16,24,32,40,48,56,64,72,80,88,96,104,112,120,128,136,144,152],"tickCount":100,"labels":false,"ticks":false,"minExtent":0,"maxExtent":0}},
    "y":{"field":"v","type":"quantitative","title":null,"scale":{"domain":[0,100],"nice":false,"zero":false},
      "axis":{"orient":"right","values":[0,30,70,100],"tickCount":100,"labelFlush":true,"labelOverlap":false}}}},
  {"data":{"name":"rsi"},"mark":{"type":"line","color":"#ff0000","strokeWidth":1},
   "encoding":{
    "x":{"field":"i","type":"quantitative","title":null,"scale":{"domain":[-0.25,153.5],"nice":false,"zero":false}},
    "y":{"field":"v","type":"quantitative","title":null,"scale":{"domain":[0,100],"nice":false,"zero":false}}}}
 ]
},
{
 "width":615,"height":59,
 "title":{"text":"Stoch(5,3,3) 93.0636 82.4199"},
 "layer":[
  {"data":{"name":"std"},"mark":{"type":"line","color":"#ff0000","strokeWidth":1,"strokeDash":[3,2]},
   "encoding":{
    "x":{"field":"i","type":"quantitative","title":null,"scale":{"domain":[-0.25,153.5],"nice":false,"zero":false},
      "axis":{"values":[8,16,24,32,40,48,56,64,72,80,88,96,104,112,120,128,136,144,152],"tickCount":100,"labels":false,"ticks":false,"minExtent":0,"maxExtent":0}},
    "y":{"field":"v","type":"quantitative","title":null,"scale":{"domain":[0,100],"nice":false,"zero":false},
      "axis":{"orient":"right","values":[0,20,50,80,100],"tickCount":100,"labelFlush":true,"labelOverlap":false}}}},
  {"data":{"name":"stk"},"mark":{"type":"line","color":"#20b2aa","strokeWidth":1},
   "encoding":{
    "x":{"field":"i","type":"quantitative","title":null,"scale":{"domain":[-0.25,153.5],"nice":false,"zero":false}},
    "y":{"field":"v","type":"quantitative","title":null,"scale":{"domain":[0,100],"nice":false,"zero":false}}}}
 ]
},
{
 "width":615,"height":70,
 "title":{"text":"MACD(12,26,9) -0.000871 -0.001220"},
 "layer":[
  {"data":{"name":"hist"},"mark":{"type":"rule","color":"#c0c0c0","strokeWidth":1},
   "encoding":{
    "x":{"field":"i","type":"quantitative","title":null,"scale":{"domain":[-0.25,153.5],"nice":false,"zero":false},
      "axis":{"values":[0,8,16,24,32,40,48,56,64,72,80,88,96,104,112,120,128,136,144,152],"tickCount":100,
        "labelExpr":"datum.value % 16 == 0 ? ['11 Oct 2018','12 Oct 02:00','12 Oct 18:00','15 Oct 10:00','16 Oct 02:00','16 Oct 18:00','17 Oct 10:00','18 Oct 02:00','18 Oct 18:00','19 Oct 10:00'][datum.value / 16] : ''",
        "labelAlign":"left","labelBound":false,"labelFlush":false,"labelOverlap":false,"labelPadding":2,"tickSize":3}},
    "y":{"field":"m","type":"quantitative","title":null,"scale":{"domain":[-0.002034,0.00178],"nice":false,"zero":false},
      "axis":{"orient":"right","values":[-0.002034,0,0.00178],"tickCount":100,"labelFlush":true,"labelOverlap":false,
        "labelExpr":"datum.value == 0 ? '0.00' : (datum.value > 0 ? '0.00178' : '-0.002034')"}},
    "y2":{"datum":0}}},
  {"data":{"name":"sig"},"mark":{"type":"line","color":"#ff0000","strokeWidth":1},
   "encoding":{
    "x":{"field":"i","type":"quantitative","title":null,"scale":{"domain":[-0.25,153.5],"nice":false,"zero":false}},
    "y":{"field":"m","type":"quantitative","title":null,"scale":{"domain":[-0.002034,0.00178],"nice":false,"zero":false}}}}
 ]
}
]
}
